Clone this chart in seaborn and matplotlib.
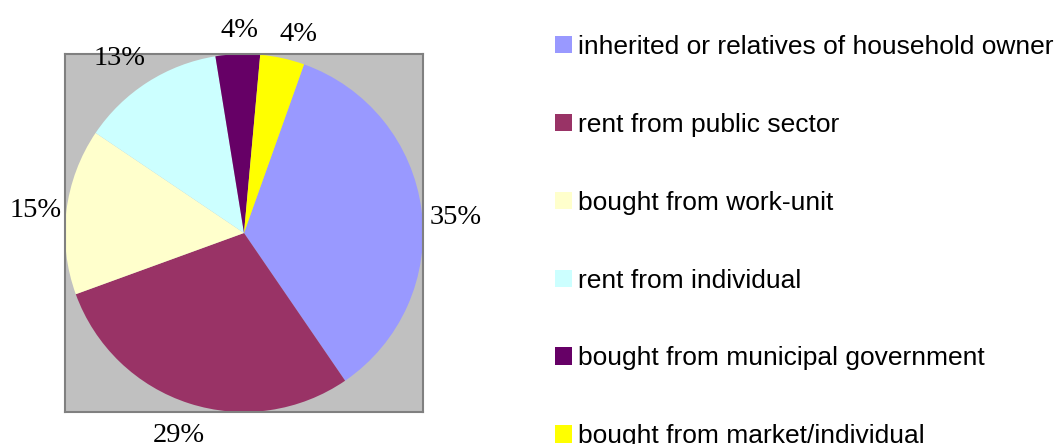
import matplotlib
matplotlib.use("Agg")
import matplotlib.pyplot as plt
import matplotlib.patches as patches
import seaborn as sns

# housing source shares (%)
categories = [
    "inherited or relatives of household owner",
    "rent from public sector",
    "bought from work-unit",
    "rent from individual",
    "bought from municipal government",
    "bought from market/individual",
]
shares = [35, 29, 15, 13, 4, 4]
slice_colors = ["#9999FF", "#993366", "#FFFFCC", "#CCFFFF", "#660066", "#FFFF00"]

sns.set_theme(style="white")
palette = sns.color_palette(slice_colors)

fig = plt.figure(figsize=(10.57, 4.44), dpi=100)
ax = fig.add_axes([65 / 1057, 31 / 444, 358 / 1057, 360 / 444])

wedges, texts, autotexts = ax.pie(
    shares,
    colors=palette,
    startangle=70.4,
    counterclock=False,
    autopct="%1.0f%%",
    pctdistance=1.19,
    wedgeprops=dict(linewidth=0),
    textprops=dict(family="Liberation Serif", fontsize=20.5, color="black"),
)
# nudge labels the way the original layout placed them (pixel offsets)
nudges = [(0, -12), (0, 0), (3, -3), (-10, -5), (3, -10), (9, -10)]
px = 1 / 179
for t, (dx, dy) in zip(autotexts, nudges):
    x, y = t.get_position()
    t.set_position((x + dx * px, y + dy * px))

ax.set_xlim(-1, 1)
ax.set_ylim(-1, 1)
ax.set_frame_on(True)
ax.set_facecolor("#C0C0C0")
for sp in ax.spines.values():
    sp.set_visible(True)
    sp.set_color("#808080")
    sp.set_linewidth(1.5)

handles = [patches.Patch(facecolor=c, edgecolor="none") for c in palette]
leg = fig.legend(
    handles, categories,
    loc="upper left",
    bbox_to_anchor=(555 / 1057, 1 - 35 / 444),
    frameon=False,
    borderpad=0,
    borderaxespad=0,
    prop=dict(family="Liberation Sans", size=19),
    handlelength=0.64,
    handleheight=0.64,
    handletextpad=0.23,
    labelspacing=2.04,
)
for t in leg.get_texts():
    t.set_color("black")

fig.savefig("out.png", dpi=100)
